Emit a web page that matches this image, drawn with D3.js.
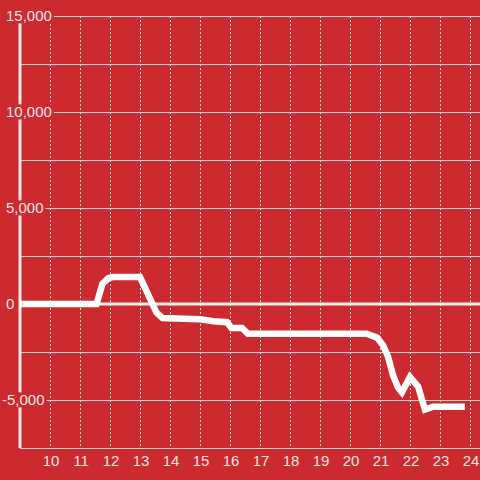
<!DOCTYPE html>
<html>
<head>
<meta charset="utf-8">
<script src="https://cdn.jsdelivr.net/npm/d3@7"></script>
<style>
  html, body { margin: 0; padding: 0; background: #cc2a2f; }
  svg { display: block; font-family: "Liberation Sans", Arial, sans-serif; }
</style>
</head>
<body>
<div id="chart"></div>
<script>
"use strict";

// hour of day (decimal) and running balance
const hours = [9, 11.55, 11.75, 11.95, 12.1, 13.0, 13.3, 13.55, 13.75, 14.7, 15.0,
  15.45, 15.9, 16.05, 16.4, 16.6, 20.55, 20.9, 21.1, 21.27, 21.43, 21.6, 21.73,
  22.0, 22.27, 22.5, 22.77, 23.83];
const values = [0, 0, 1050, 1350, 1400, 1400, 400, -450, -730, -780, -800,
  -900, -950, -1250, -1250, -1550, -1550, -1750, -2150, -2750, -3700, -4350, -4600,
  -3800, -4300, -5500, -5350, -5350];

const xTicks = [10, 11, 12, 13, 14, 15, 16, 17, 18, 19, 20, 21, 22, 23, 24];
const yGrid = [-7500, -5000, -2500, 2500, 5000, 7500, 10000, 12500, 15000];
const yLabels = [-5000, 0, 5000, 10000, 15000];

const width = 480
    , height = 480
    , bg = '#cc2a2f'
    , ink = '#f3e6e6'

const svg = d3.select('#chart').append('svg')
  .attr('width', width)
  .attr('height', height)

svg.append('rect')
  .attr('width', width)
  .attr('height', height)
  .attr('fill', bg)

const x = d3.scaleLinear().domain([9, 24]).range([20, 470]);
const y = d3.scaleLinear().domain([-7500, 15000]).range([448, 16]);

/*
 * Grid
 ***/
svg.append('g')
  .selectAll('line')
  .data(xTicks)
  .join('line')
  .attr('x1', d => x(d)).attr('x2', d => x(d))
  .attr('y1', y(15000)).attr('y2', y(-7500))
  .attr('stroke', '#e9dada')
  .attr('stroke-width', 1)
  .attr('stroke-dasharray', '2,2')
  .attr('shape-rendering', 'crispEdges')

svg.append('g')
  .selectAll('line')
  .data(yGrid)
  .join('line')
  .attr('x1', x(9)).attr('x2', width)
  .attr('y1', d => y(d)).attr('y2', d => y(d))
  .attr('stroke', '#dcd2d2')
  .attr('stroke-width', 1)
  .attr('shape-rendering', 'crispEdges')

// zero line
svg.append('line')
  .attr('x1', x(9)).attr('x2', width)
  .attr('y1', y(0)).attr('y2', y(0))
  .attr('stroke', '#f5eeee')
  .attr('stroke-width', 3)

// y axis line
svg.append('line')
  .attr('x1', x(9)).attr('x2', x(9))
  .attr('y1', y(15000)).attr('y2', y(-7500))
  .attr('stroke', '#efe6e6')
  .attr('stroke-width', 3)

/*
 * Y labels, with a patch of background behind each
 ***/
const fmt = d3.format(',')
const labelG = svg.append('g')
  .selectAll('g')
  .data(yLabels)
  .join('g')
  .attr('transform', d => `translate(${d < 0 ? 2 : 6},${y(d)})`)

labelG.append('text')
  .attr('dy', '0.36em')
  .attr('fill', ink)
  .style('font-size', '15px')
  .text(d => d === 0 ? '0' : fmt(d).replace('−', '-'))

labelG.each(function () {
  const b = d3.select(this).select('text').node().getBBox();
  d3.select(this).insert('rect', 'text')
    .attr('x', b.x - 2)
    .attr('y', b.y + 1)
    .attr('width', b.width + 4)
    .attr('height', b.height - 2)
    .attr('fill', bg)
})

/*
 * X labels
 ***/
svg.append('g')
  .selectAll('text')
  .data(xTicks)
  .join('text')
  .attr('x', d => x(d) + 1)
  .attr('y', 466)
  .attr('text-anchor', 'middle')
  .attr('fill', ink)
  .style('font-size', '15px')
  .text(d => d)

/*
 * Balance line
 ***/
const line = d3.line()
  .x((d, i) => x(hours[i]))
  .y(d => y(d))

svg.append('path')
  .datum(values)
  .attr('d', line)
  .attr('fill', 'none')
  .attr('stroke', '#ffffff')
  .attr('stroke-width', 6.5)
  .attr('stroke-linejoin', 'miter')
</script>
</body>
</html>
